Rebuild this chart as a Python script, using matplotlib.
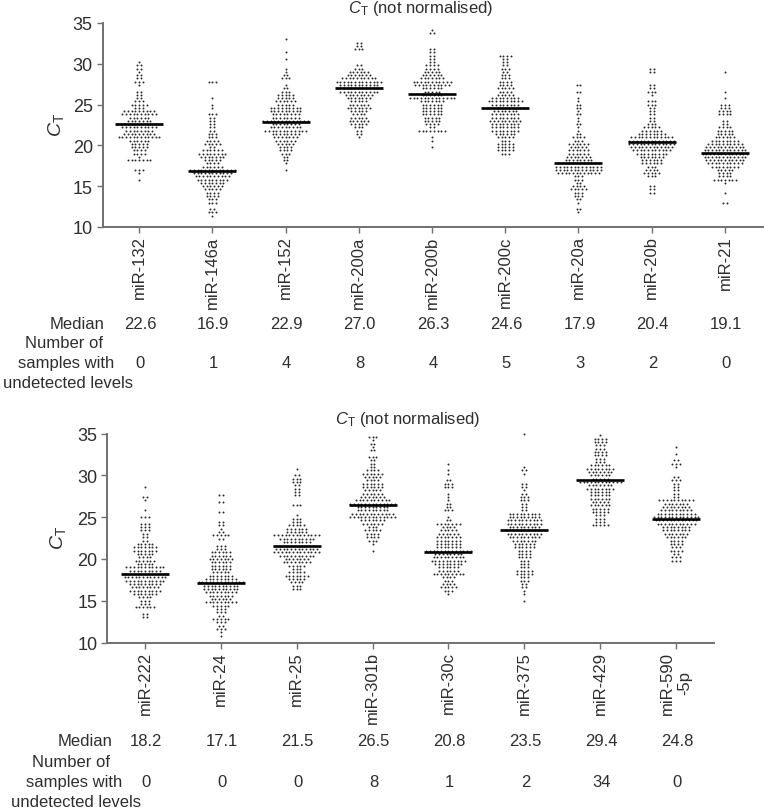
import numpy as np
import matplotlib
matplotlib.use("Agg")
import matplotlib.pyplot as plt

plt.rcParams['font.family'] = ['Liberation Sans', 'DejaVu Sans']
plt.rcParams['mathtext.fontset'] = 'custom'
plt.rcParams['mathtext.it'] = 'Liberation Sans:italic'
plt.rcParams['mathtext.rm'] = 'Liberation Sans'

W, H = 764, 812
TEXT = '#2e2e2e'
AXIS = '#707070'
ROW_STEP = 0.4  # CT height of one row of dots

# top panel
names_top = ['miR-132', 'miR-146a', 'miR-152', 'miR-200a', 'miR-200b', 'miR-200c', 'miR-20a', 'miR-20b', 'miR-21']
medians_top = [22.6, 16.9, 22.9, 27.0, 26.3, 24.6, 17.9, 20.4, 19.1]
undetected_top = [0, 1, 4, 8, 4, 5, 3, 2, 0]
starts_top = [15.8, 11.4, 17.0, 21.0, 19.8, 19.0, 11.8, 14.2, 13.0]
# dots per row, going up from the start value
mir132 = [1, 0, 1, 3, 0, 0, 7, 1, 4, 4, 5, 5, 6, 12, 9, 8, 10, 13, 7, 6, 10, 9, 3, 5, 3, 2, 2, 2, 0, 1, 3, 2, 2, 1, 2, 2, 1]
mir146a = [1, 3, 2, 0, 3, 3, 4, 4, 5, 6, 7, 9, 10, 11, 13, 6, 4, 5, 7, 8, 6, 2, 5, 4, 3, 3, 2, 2, 2, 2, 2, 3, 0, 1, 1, 0, 1, 0, 0, 0, 0, 3]
mir152 = [1, 0, 1, 2, 2, 3, 4, 4, 5, 6, 7, 8, 12, 9, 8, 13, 8, 8, 9, 9, 5, 6, 5, 5, 3, 2, 1, 0, 3, 2, 1, 1, 0, 0, 1, 0, 1, 0, 0, 0, 1]
mir200a = [1, 2, 2, 3, 5, 6, 5, 4, 5, 7, 6, 5, 7, 8, 11, 13, 11, 13, 10, 7, 6, 3, 2, 0, 0, 0, 0, 3, 2, 2]
mir200b = [1, 0, 1, 1, 0, 8, 2, 4, 5, 5, 6, 6, 6, 6, 7, 13, 6, 5, 6, 10, 11, 7, 6, 5, 4, 4, 2, 2, 2, 2, 2, 0, 0, 0, 0, 2, 1]
mir200c = [3, 5, 5, 5, 3, 5, 6, 8, 8, 8, 9, 8, 8, 7, 13, 8, 10, 8, 5, 4, 5, 4, 4, 3, 3, 2, 3, 2, 2, 2, 4]
mir20a = [1, 2, 0, 1, 2, 3, 3, 5, 4, 2, 3, 3, 12, 13, 13, 12, 8, 7, 6, 6, 5, 6, 3, 4, 2, 1, 1, 2, 1, 1, 2, 1, 2, 2, 1, 1, 0, 2, 0, 2]
mir20b = [2, 2, 2, 0, 0, 3, 5, 4, 3, 6, 6, 7, 9, 11, 12, 13, 13, 12, 8, 6, 5, 3, 2, 2, 2, 2, 2, 3, 3, 0, 1, 3, 2, 2, 0, 0, 0, 2, 2]
mir21 = [2, 0, 0, 1, 0, 0, 1, 7, 4, 4, 5, 8, 10, 11, 12, 13, 12, 11, 10, 8, 6, 5, 5, 4, 2, 2, 0, 4, 4, 3, 3, 0, 1, 0, 1, 0, 0, 0, 0, 0, 1]
counts_top = [mir132, mir146a, mir152, mir200a, mir200b, mir200c, mir20a, mir20b, mir21]

# bottom panel
names_bottom = ['miR-222', 'miR-24', 'miR-25', 'miR-301b', 'miR-30c', 'miR-375', 'miR-429', 'miR-590\n-5p']
medians_bottom = [18.2, 17.1, 21.5, 26.5, 20.8, 23.5, 29.4, 24.8]
undetected_bottom = [0, 0, 0, 8, 1, 2, 34, 0]
starts_bottom = [13.0, 10.8, 16.4, 21.0, 15.8, 15.0, 24.0, 19.8]
mir222 = [2, 2, 0, 6, 3, 3, 4, 7, 9, 8, 9, 11, 12, 13, 9, 11, 5, 6, 4, 5, 7, 7, 5, 2, 2, 2, 3, 3, 3, 0, 3, 0, 1, 0, 0, 1, 2, 0, 0, 1]
mir24 = [1, 1, 3, 2, 3, 5, 2, 3, 3, 5, 9, 6, 7, 9, 10, 10, 13, 9, 7, 5, 6, 6, 6, 7, 6, 6, 3, 3, 0, 2, 5, 2, 1, 2, 2, 0, 0, 2, 0, 0, 2, 0, 2]
mir25 = [3, 3, 4, 5, 7, 5, 3, 5, 8, 7, 10, 13, 12, 13, 8, 10, 13, 6, 6, 5, 3, 3, 1, 0, 0, 3, 0, 0, 2, 2, 2, 2, 3, 3, 2, 0, 1]
mir301b = [1, 0, 1, 3, 4, 4, 5, 3, 6, 7, 13, 12, 9, 9, 13, 10, 7, 6, 5, 6, 6, 4, 5, 6, 4, 2, 2, 2, 3, 0, 2, 1, 2, 1, 3]
mir30c = [1, 3, 5, 4, 3, 4, 9, 6, 6, 8, 10, 9, 8, 13, 7, 7, 7, 7, 6, 5, 4, 7, 2, 1, 0, 3, 2, 2, 1, 1, 1, 0, 3, 3, 2, 0, 1, 1, 0, 1]
mir375 = [1, 0, 1, 1, 2, 2, 3, 3, 5, 5, 3, 3, 3, 4, 4, 4, 6, 6, 7, 9, 10, 13, 9, 10, 10, 9, 9, 2, 2, 2, 3, 3, 2, 1, 2, 2, 0, 0, 1, 2, 1, 0, 0, 0, 0, 0, 0, 0, 0, 0, 1]
mir429 = [5, 3, 3, 3, 5, 5, 6, 5, 6, 6, 6, 8, 7, 12, 5, 6, 7, 8, 6, 3, 3, 4, 4, 3, 3, 4, 4, 1]
mir590 = [3, 3, 2, 4, 3, 4, 4, 6, 7, 8, 8, 11, 12, 13, 11, 9, 8, 7, 10, 2, 2, 2, 2, 2, 3, 2, 0, 0, 1, 3, 2, 0, 1, 0, 1]
counts_bottom = [mir222, mir24, mir25, mir301b, mir30c, mir375, mir429, mir590]


def panel(fig, left, right, top, bottom, lim, names, medians, counts, starts):
    ax = fig.add_axes([left / W, 1 - bottom / H, (right - left) / W, (bottom - top) / H])
    ax.set_xlim(*lim)
    ax.set_ylim(10, 35)
    unit = (right - left) / (lim[1] - lim[0])  # pixels per category

    for i, (cnt, start) in enumerate(zip(counts, starts)):
        xs, ys = [], []
        for j, n in enumerate(cnt):
            for k in range(n):
                xs.append(i + (k - (n - 1) / 2) * 3.7 / unit)
                ys.append(start + j * ROW_STEP)
        ax.scatter(xs, ys, s=2.0, color='#2a2a2a', linewidths=0, zorder=2, clip_on=False)
        ax.plot([i - 24 / unit, i + 24 / unit], [medians[i]] * 2, color='black', lw=1.9,
                solid_capstyle='butt', zorder=3)

    for s in ['top', 'right']:
        ax.spines[s].set_visible(False)
    for s in ['left', 'bottom']:
        ax.spines[s].set_color(AXIS)
        ax.spines[s].set_linewidth(1.4)
    ax.set_yticks([10, 15, 20, 25, 30, 35])
    ax.set_xticks(range(len(names)))
    ax.set_xticklabels(names, rotation=90, fontsize=12, color=TEXT, linespacing=1.15)
    ax.tick_params(axis='y', length=4, width=1.0, color=AXIS, labelsize=13, labelcolor=TEXT, pad=3)
    ax.tick_params(axis='x', length=4, width=1.0, color=AXIS, pad=2)
    ax.patch.set_alpha(0)
    return ax


def label(fig, x, y, s, size=12, **kw):
    kw.setdefault('ha', 'center')
    fig.text(x / W, 1 - y / H, s, fontsize=size, color=TEXT, va='center', **kw)


fig = plt.figure(figsize=(W / 100, H / 100), dpi=100)

panel(fig, 102.5, 763, 24, 228, (-0.5, 8.52), names_top, medians_top, counts_top, starts_top)
panel(fig, 107, 714, 434.5, 643.5, (-0.5, 7.5), names_bottom, medians_bottom, counts_bottom, starts_bottom)

ct = r'$\mathit{C}_{\mathrm{T}}$'
label(fig, 421, 9, ct + ' (not normalised)')
label(fig, 408, 420, ct + ' (not normalised)')
label(fig, 56, 125, ct, size=14, rotation=90)
label(fig, 58, 538, ct, size=14, rotation=90)

# text rows under the top panel
label(fig, 77, 325, 'Median')
label(fig, 64, 344, 'Number of')
label(fig, 66, 364, 'samples with')
label(fig, 68, 384, 'undetected levels')
for i in range(len(names_top)):
    x = 140 + i * 73.25
    label(fig, x, 325, f'{medians_top[i]:.1f}')
    label(fig, x, 364, str(undetected_top[i]))

# text rows under the bottom panel
label(fig, 85, 742, 'Median')
label(fig, 71, 763, 'Number of')
label(fig, 74, 783, 'samples with')
label(fig, 76, 803, 'undetected levels')
for i in range(len(names_bottom)):
    x = 146 + i * 75.87
    label(fig, x, 742, f'{medians_bottom[i]:.1f}')
    label(fig, x, 783, str(undetected_bottom[i]))

fig.savefig('out.png', dpi=100)
